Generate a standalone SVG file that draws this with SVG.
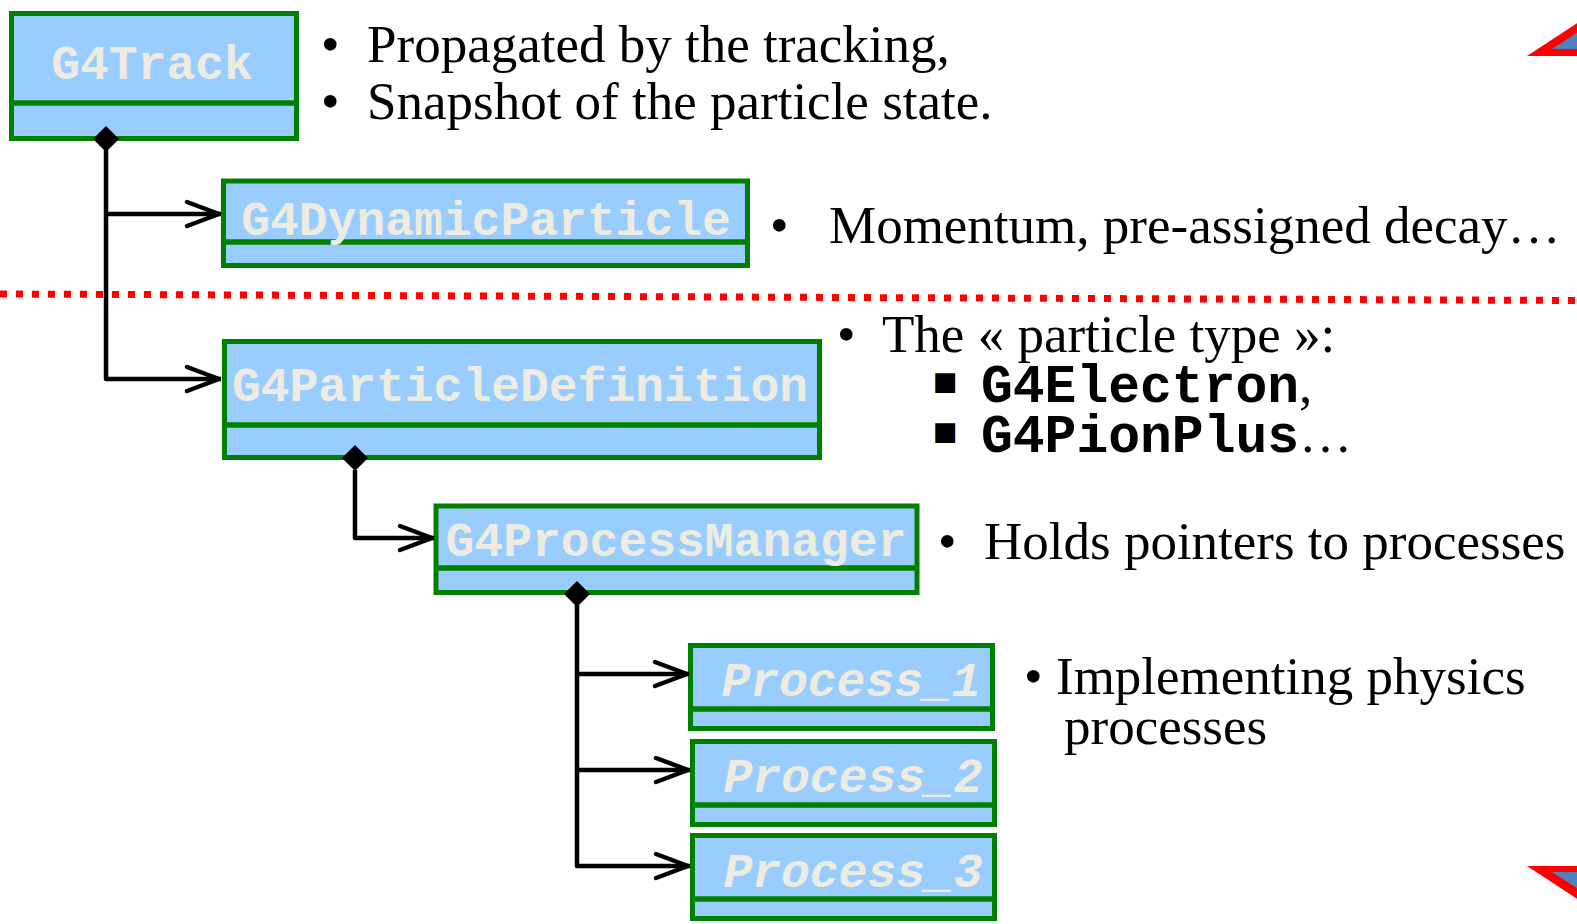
<svg xmlns="http://www.w3.org/2000/svg" width="1577" height="924" viewBox="0 0 1577 924">
<style>
.box{fill:#99CCFF;stroke:#008000;stroke-width:5}
.sep{stroke:#008000;stroke-width:5.5}
.lbl{font-family:"Liberation Mono",monospace;font-weight:bold;font-size:48px;fill:#EEECE1}
.it{font-style:italic}
.txt{font-family:"Liberation Serif",serif;font-size:53px;fill:#000}
.code{font-family:"Liberation Mono",monospace;font-weight:bold;font-size:53px;fill:#000}
.sq{font-family:"DejaVu Sans",sans-serif;font-size:26px;fill:#000}
.con{fill:none;stroke:#000;stroke-width:4.5;stroke-linejoin:round}
.dia{fill:#000}
</style>
<defs>
<marker id="arr" markerUnits="userSpaceOnUse" markerWidth="44" markerHeight="32" refX="38" refY="16" orient="auto" overflow="visible">
<path d="M4,4 L36,16 L4,28" fill="none" stroke="#000" stroke-width="4.5" stroke-linecap="round" stroke-linejoin="round"/>
</marker>
</defs>
<rect width="1577" height="924" fill="#fff"/>

<line x1="0" y1="294" x2="1577" y2="300.5" stroke="#FF0000" stroke-width="7" stroke-dasharray="7 9"/>

<g id="G4Track">
<rect class="box" x="11.5" y="13.5" width="285" height="125"/>
<line class="sep" x1="9" y1="103" x2="299" y2="103"/>
<text class="lbl" x="152" y="79" text-anchor="middle">G4Track</text>
</g>

<g id="G4DynamicParticle">
<rect class="box" x="223.5" y="181" width="524" height="84.5"/>
<line class="sep" x1="221" y1="242" x2="750" y2="242"/>
<text class="lbl" x="486" y="235" text-anchor="middle">G4DynamicParticle</text>
</g>

<g id="G4ParticleDefinition">
<rect class="box" x="224.5" y="341.5" width="595" height="116"/>
<line class="sep" x1="222" y1="425" x2="822" y2="425"/>
<text class="lbl" x="520" y="401" text-anchor="middle">G4ParticleDefinition</text>
</g>

<g id="G4ProcessManager">
<rect class="box" x="436" y="506" width="481" height="86.5"/>
<line class="sep" x1="434" y1="568" x2="919" y2="568"/>
<text class="lbl" x="676" y="556" text-anchor="middle">G4ProcessManager</text>
</g>

<g id="Process_1">
<rect class="box" x="690.5" y="645.5" width="302" height="83"/>
<line class="sep" x1="688" y1="709" x2="995" y2="709"/>
<text class="lbl it" x="851" y="696" text-anchor="middle">Process_1</text>
</g>

<g id="Process_2">
<rect class="box" x="692.5" y="741.5" width="302" height="83"/>
<line class="sep" x1="690" y1="805" x2="997" y2="805"/>
<text class="lbl it" x="853" y="792" text-anchor="middle">Process_2</text>
</g>

<g id="Process_3">
<rect class="box" x="692.5" y="835.5" width="302" height="83"/>
<line class="sep" x1="690" y1="899" x2="997" y2="899"/>
<text class="lbl it" x="853" y="887" text-anchor="middle">Process_3</text>
</g>

<g id="connectors">
<path class="con" d="M106,150 V379 H221" marker-end="url(#arr)"/>
<path class="con" d="M106,214 H221" marker-end="url(#arr)"/>
<path class="dia" d="M106,126 L119,139 L106,152 L93,139 Z"/>
<path class="con" d="M355,470 V538 H434" marker-end="url(#arr)"/>
<path class="dia" d="M355,445 L368,458 L355,471 L342,458 Z"/>
<path class="con" d="M577,605 V866 H690" marker-end="url(#arr)"/>
<path class="con" d="M577,674 H689" marker-end="url(#arr)"/>
<path class="con" d="M577,770 H690" marker-end="url(#arr)"/>
<path class="dia" d="M577,581 L590,594 L577,607 L564,594 Z"/>
</g>

<g id="G4Track-notes">
<text class="txt" x="321" y="62">•</text>
<text class="txt" x="367" y="62">Propagated by the tracking,</text>
<text class="txt" x="321" y="119">•</text>
<text class="txt" x="367" y="119">Snapshot of the particle state.</text>
</g>

<g id="G4DynamicParticle-notes">
<text class="txt" x="770" y="243">•</text>
<text class="txt" x="829" y="243">Momentum, pre-assigned decay…</text>
</g>

<g id="G4ParticleDefinition-notes">
<text class="txt" x="837" y="352">•</text>
<text class="txt" x="882" y="352">The « particle type »:</text>
<text class="sq" x="933" y="390">■</text>
<text x="981" y="402"><tspan class="code">G4Electron</tspan><tspan class="txt">,</tspan></text>
<text class="sq" x="933" y="440">■</text>
<text x="981" y="452"><tspan class="code">G4PionPlus</tspan><tspan class="txt">…</tspan></text>
</g>

<g id="G4ProcessManager-notes">
<text class="txt" x="938" y="559">•</text>
<text class="txt" x="984" y="559">Holds pointers to processes</text>
</g>

<g id="Process-notes">
<text class="txt" x="1024" y="694">•</text>
<text class="txt" x="1056" y="694">Implementing physics</text>
<text class="txt" x="1064" y="744">processes</text>
</g>

<g id="nav">
<polygon points="1527,56 1620,-5 1620,56" fill="#FF0000"/>
<polygon points="1552,49 1620,5 1620,49" fill="#4F81BD"/>
<polygon points="1527,866 1620,866 1620,927" fill="#FF0000"/>
<polygon points="1552,872 1620,872 1620,916" fill="#4F81BD"/>
</g>
</svg>
